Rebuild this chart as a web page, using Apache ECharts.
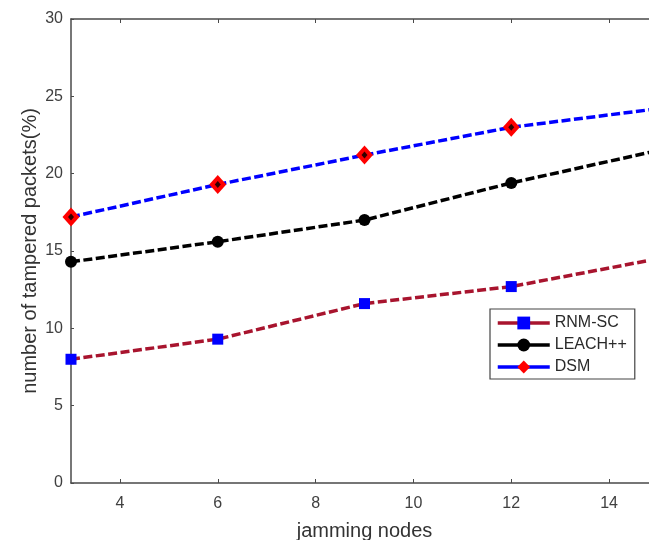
<!DOCTYPE html>
<html>
<head>
<meta charset="utf-8">
<script src="https://cdn.jsdelivr.net/npm/echarts@6/dist/echarts.min.js"></script>
<style>
html,body{margin:0;padding:0;background:#fff;}
#c{width:649px;height:540px;}
</style>
</head>
<body>
<div id="c"></div>
<script>
var xValues = [3, 6, 9, 12, 15];
var rnmSc = [8.0, 9.3, 11.6, 12.7, 14.5];
var leach = [14.3, 15.6, 17.0, 19.4, 21.5];
var dsm = [17.2, 19.3, 21.2, 23.0, 24.2];
var xTicks = [4, 6, 8, 10, 12, 14];
var seriesNames = ['RNM-SC', 'LEACH++', 'DSM'];

function pairs(ys){ return xValues.map(function(x,i){ return [x, ys[i]]; }); }

var font = 'Liberation Sans, Arial, Helvetica, sans-serif';
var axisColor = '#4a4a4a';
var dash = [9, 3.5];

var chart = echarts.init(document.getElementById('c'), null, {renderer:'canvas'});
chart.setOption({
  animation: false,
  backgroundColor: '#fff',
  grid: {left: 71, top: 19, width: 587, height: 464, containLabel: false, outerBoundsMode: 'none'},
  xAxis: [{
    type: 'value', min: 3, max: 15, position: 'bottom',
    name: 'jamming nodes', nameLocation: 'middle', nameGap: 38,
    nameTextStyle: {fontFamily: font, fontSize: 20, color: '#333'},
    axisLine: {show: true, onZero: false, lineStyle: {color: axisColor, width: 1.5}},
    axisTick: {show: true, inside: true, length: 4, customValues: xTicks, lineStyle: {color: axisColor}},
    axisLabel: {customValues: xTicks, margin: 13, fontFamily: font, fontSize: 16, color: '#404040'},
    splitLine: {show: false}
  },{
    type: 'value', min: 3, max: 15, position: 'top',
    axisLine: {show: true, onZero: false, lineStyle: {color: axisColor, width: 1.5}},
    axisTick: {show: true, inside: true, length: 4, customValues: xTicks, lineStyle: {color: axisColor}},
    axisLabel: {show: false},
    splitLine: {show: false}
  }],
  yAxis: [{
    type: 'value', min: 0, max: 30, interval: 5,
    name: 'number of tampered packets(%)', nameLocation: 'middle', nameGap: 31,
    nameMoveOverlap: false,
    nameTextStyle: {fontFamily: font, fontSize: 20, color: '#333'},
    axisLine: {show: true, onZero: false, lineStyle: {color: axisColor, width: 1.5}},
    axisTick: {show: true, inside: true, length: 3, lineStyle: {color: axisColor}},
    axisLabel: {margin: 8, fontFamily: font, fontSize: 16, color: '#404040'},
    splitLine: {show: false}
  }],
  legend: {
    orient: 'vertical',
    left: 490, top: 309,
    data: seriesNames,
    itemWidth: 52, itemHeight: 16, itemGap: 6,
    padding: [6, 8, 4, 6],
    borderColor: '#444', borderWidth: 1.2, borderRadius: 0,
    backgroundColor: '#fff',
    lineStyle: {type: 'solid', width: 3.5},
    textStyle: {fontFamily: font, fontSize: 16, color: '#2a2a2a'}
  },
  series: [
    {
      name: 'RNM-SC', type: 'line', data: pairs(rnmSc),
      symbol: 'rect', symbolSize: 11,
      lineStyle: {color: '#A8142E', width: 3.5, type: dash},
      itemStyle: {color: '#0000FF', borderWidth: 0}
    },
    {
      name: 'LEACH++', type: 'line', data: pairs(leach),
      symbol: 'circle', symbolSize: 12,
      lineStyle: {color: '#000', width: 3.5, type: dash},
      itemStyle: {color: '#000', borderWidth: 0}
    },
    {
      name: 'DSM', type: 'line', data: pairs(dsm),
      symbol: 'diamond', symbolSize: [17, 19],
      lineStyle: {color: '#0000FF', width: 3.5, type: dash},
      itemStyle: {color: '#FF0000', borderWidth: 0}
    },
    {
      name: 'DSM-center', type: 'scatter', data: pairs(dsm),
      symbol: 'diamond', symbolSize: [6, 7], z: 5,
      itemStyle: {color: '#000'}
    }
  ]
});
</script>
</body>
</html>
